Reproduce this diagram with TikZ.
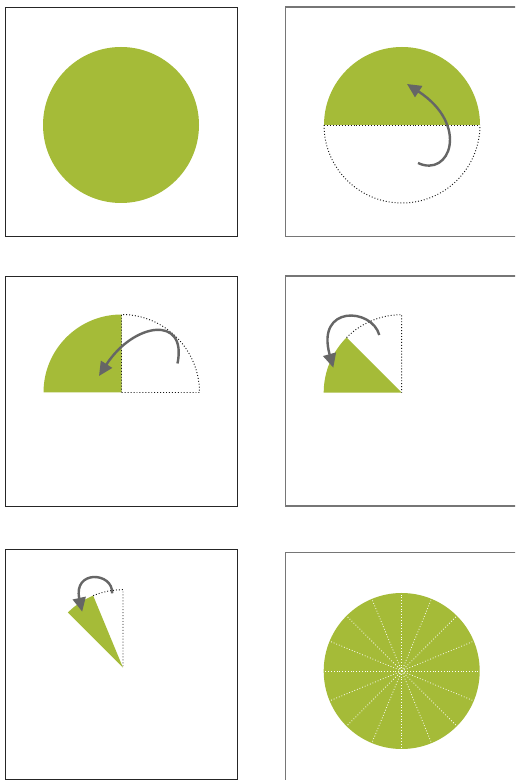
\documentclass[tikz,border=0pt]{standalone}
\usetikzlibrary{arrows.meta}
\definecolor{leafgreen}{RGB}{165,187,56}
\definecolor{arrowgray}{RGB}{102,102,102}
\definecolor{framegray}{RGB}{118,118,118}
\begin{document}
\begin{tikzpicture}[
    x=1pt,
    y=1pt,
    frame/.style={draw=black!85, line width=0.8pt},
    framelight/.style={draw=framegray, line width=1.1pt},
    guide/.style={draw=black!90, dotted, line width=0.95pt},
    cutline/.style={draw=white, dotted, line width=0.8pt},
    turn/.style={draw=arrowgray, line width=2.4pt, -{Triangle[length=14pt,width=13pt]}}
]
\clip (0,0) rectangle (515,780);
\fill[white] (0,0) rectangle (515,780);

% frames
\draw[frame] (5.5,543.3) rectangle (237.5,773);
\draw[framelight] (285.8,543.3) rectangle (518,773);
\draw[frame] (5.5,274) rectangle (237.5,504);
\draw[framelight] (285.8,274) rectangle (518,504);
\draw[frame] (5.5,1) rectangle (237.5,230.7);
\draw[framelight] (285.8,-3) rectangle (518,227.3);

% whole disc
\fill[leafgreen] (121,655) circle (78);

% half
\begin{scope}[shift={(402,655)}]
\fill[leafgreen] (78,0) arc (0:180:78) -- cycle;
\draw[guide] (-78,0) -- (78,0);
\draw[guide] (-78,0) arc (180:360:78);
\draw[turn] (16,-38) .. controls (48,-53) and (68,0) .. (5,41);
\end{scope}

% quarter
\begin{scope}[shift={(121.5,387.5)}]
\fill[leafgreen] (0,0) -- (0,78) arc (90:180:78) -- cycle;
\draw[guide] (0,0) -- (0,78) arc (90:0:78) -- cycle;
\draw[turn] (56,29) .. controls (66,78) and (12,70) .. (-22.5,16.5);
\end{scope}

% eighth
\begin{scope}[shift={(401.7,387.3)}]
\fill[leafgreen] (0,0) -- (135:78) arc (135:180:78) -- cycle;
\draw[guide] (135:78) arc (135:90:78) -- (0,0);
\draw[turn] (-22.4,57.7) .. controls (-30,85) and (-86,88) .. (-68.4,25);
\end{scope}

% sixteenth
\begin{scope}[shift={(123,112.3)}]
\fill[leafgreen] (0,0) -- (112.5:78) arc (112.5:135:78) -- cycle;
\draw[guide] (112.5:78) arc (112.5:90:78) -- (0,0);
\draw[turn] (-10.8,74.4) .. controls (-10,96) and (-50,98) .. (-40.8,56);
\end{scope}

% cut disc
\begin{scope}[shift={(401.7,109)}]
\fill[leafgreen] (0,0) circle (78);
\foreach \a in {0,22.5,...,337.5} {
    \draw[cutline] (0,0) -- (\a:78);
}
\end{scope}
\end{tikzpicture}
\end{document}
